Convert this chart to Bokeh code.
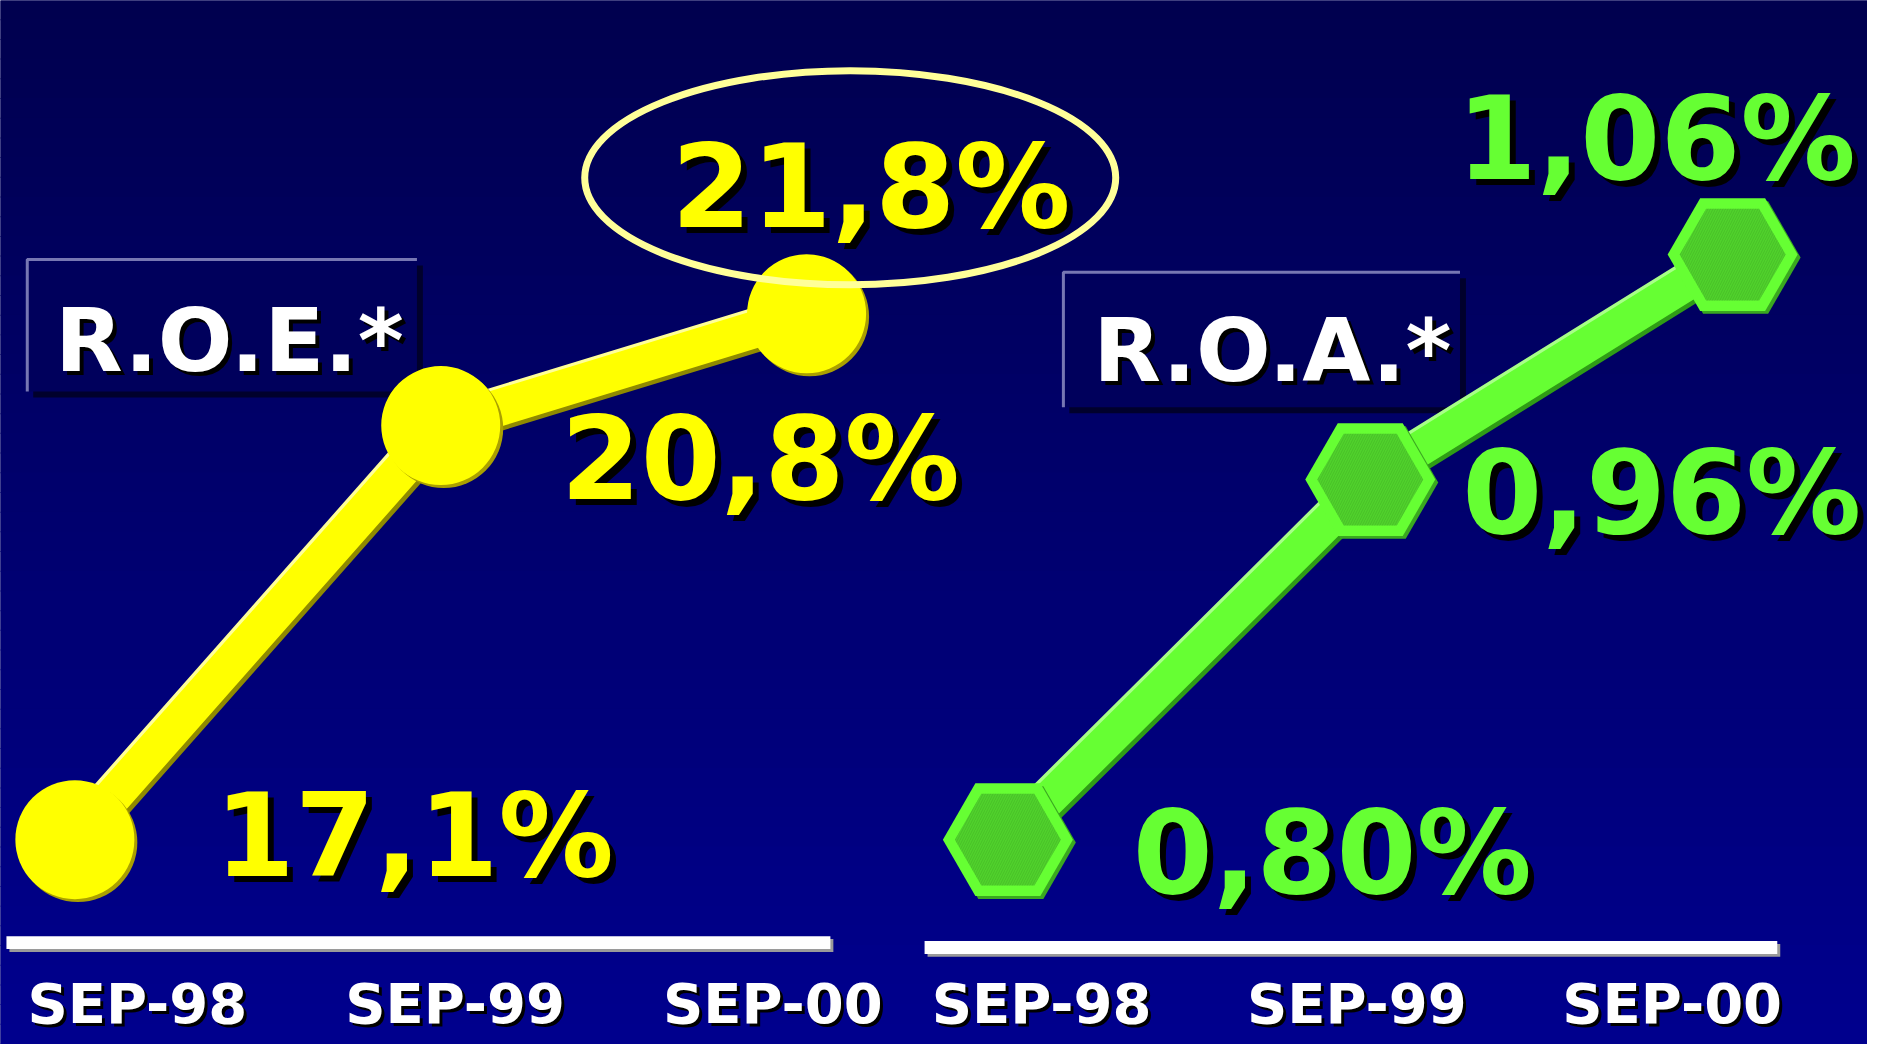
from bokeh.plotting import figure
from bokeh.models import Range1d, ColumnDataSource
from bokeh.core.properties import value
from bokeh.embed import file_html
from bokeh.resources import INLINE

# ---------------- data ----------------
periods = ["SEP-98", "SEP-99", "SEP-00"]
roe = [17.1, 20.8, 21.8]
roa = [0.80, 0.96, 1.06]
roe_title = "R.O.E.*"
roa_title = "R.O.A.*"

# ---------------- layout ----------------
REF_W, REF_H = 1883, 1060
W, H = 1867, 1044
FONT = value("DejaVu Sans")
BASE_FIX = 0.32  # em shift so that text sits on its baseline
idx = list(range(len(periods)))


def fmt(v, d):
    return f"{v:.{d}f}".replace(".", ",") + "%"


def Y(y):
    return REF_H - y


def xr(v0, p0, v1, p1, d=0):
    k = (p1 - p0) / (v1 - v0)
    return Range1d(start=v0 + (0 - p0 - d) / k, end=v0 + (REF_W - p0 - d) / k)


def yr(v0, p0, v1, p1, d=0):
    k = (p1 - p0) / (v1 - v0)
    return Range1d(start=v0 + (REF_H - p0 - d) / k, end=v0 + (0 - p0 - d) / k)


ROE_X = (75, 813)
ROE_Y = (852, 318)
ROA_X = (1016, 1747)
ROA_Y = (852, 258)
ROE_TICK = (138, 779)
ROA_TICK = (1050, 1686)

n = len(periods) - 1
p = figure(width=W, height=H, x_range=Range1d(0, REF_W), y_range=Range1d(0, REF_H),
           output_backend="svg", toolbar_location=None, min_border=0,
           x_axis_type=None, y_axis_type=None)
p.outline_line_color = None
p.background_fill_color = "#000062"
p.border_fill_color = "#000062"
p.extra_x_ranges = {}
p.extra_y_ranges = {}


def add_x(name, a, d=0):
    p.extra_x_ranges[name] = xr(0, a[0], n, a[1], d)


def add_y(name, vals, a, d=0):
    p.extra_y_ranges[name] = yr(min(vals), a[0], max(vals), a[1], d)


add_x("roe_x", ROE_X); add_y("roe_y", roe, ROE_Y)
add_x("roe_xs", ROE_X, 3); add_y("roe_ys", roe, ROE_Y, 3)
add_x("roe_xh", ROE_X, -2); add_y("roe_yh", roe, ROE_Y, -2)
add_x("roe_xe", ROE_X, 44); add_y("roe_ye", roe, ROE_Y, -138)
add_x("roa_x", ROA_X); add_y("roa_y", roa, ROA_Y)
add_x("roa_xs", ROA_X, 3); add_y("roa_ys", roa, ROA_Y, 3)
add_x("roa_xh", ROA_X, -2); add_y("roa_yh", roa, ROA_Y, -2)
add_x("roe_tick", ROE_TICK)
add_x("roa_tick", ROA_TICK)

# ---------------- background gradient ----------------
band = 20
tops, bots, cols = [], [], []
for i in range(REF_H // band + 1):
    t = i * band
    tops.append(Y(t) + 1)
    bots.append(Y(t + band))
    b = int(round(78 + (142 - 78) * (t + band / 2) / REF_H))
    cols.append("#0000%02x" % min(b, 255))
p.quad(left=-10, right=REF_W + 10, top=tops, bottom=bots, fill_color=cols, line_color=None)

# ---------------- baselines ----------------
p.quad(left=[9, 935], right=[840, 1795], top=[Y(953), Y(958)], bottom=[Y(966), Y(971)],
       fill_color="#9a9a9a", line_color=None)
p.quad(left=[6, 932], right=[837, 1792], top=[Y(950), Y(955)], bottom=[Y(963), Y(968)],
       fill_color="#ffffff", line_color=None)

# ---------------- title boxes ----------------
boxes = dict(l=[27, 1072], r=[420, 1472], t=[263, 276], b=[397, 413])
p.quad(left=[v + 6 for v in boxes["l"]], right=[v + 6 for v in boxes["r"]],
       top=[Y(v + 6) for v in boxes["t"]], bottom=[Y(v + 6) for v in boxes["b"]],
       fill_color="#00002c", line_color=None)
p.quad(left=boxes["l"], right=boxes["r"], top=[Y(v) for v in boxes["t"]],
       bottom=[Y(v) for v in boxes["b"]], fill_color="#00005c", line_color=None)
p.multi_line(xs=[[l, l, r] for l, r in zip(boxes["l"], boxes["r"])],
             ys=[[Y(b), Y(t), Y(t)] for t, b in zip(boxes["t"], boxes["b"])],
             line_color="#7777b3", line_width=3)
TS = 88
tsrc = ColumnDataSource(dict(x=[55, 1102], y=[Y(373 - BASE_FIX * TS), Y(384 - BASE_FIX * TS)],
                             text=[roe_title, roa_title]))
for dx, c in ((4, "#000000"), (0, "#ffffff")):
    p.text(x="x", y="y", text="text", source=tsrc, x_offset=dx, y_offset=dx,
           text_color=c, text_font=FONT, text_font_style="bold", text_font_size=f"{TS}px",
           text_align="left", text_baseline="alphabetic")

# ---------------- ROE series ----------------
p.line(x=idx, y=roe, x_range_name="roe_xs", y_range_name="roe_ys",
       line_color="#8f8a00", line_width=38)
p.line(x=idx, y=roe, x_range_name="roe_xh", y_range_name="roe_yh",
       line_color="#ffff99", line_width=38)
p.line(x=idx, y=roe, x_range_name="roe_x", y_range_name="roe_y",
       line_color="#ffff00", line_width=37)
p.scatter(x=idx, y=roe, x_range_name="roe_xs", y_range_name="roe_ys",
          marker="circle", size=119, fill_color="#aaa000", line_color=None)
p.scatter(x=idx, y=roe, x_range_name="roe_x", y_range_name="roe_y",
          marker="circle", size=119, fill_color="#ffff00", line_color=None)
top_i = roe.index(max(roe))
p.ellipse(x=[idx[top_i]], y=[roe[top_i]], x_range_name="roe_xe", y_range_name="roe_ye",
          width=531, height=214, width_units="screen", height_units="screen",
          fill_color=None, line_color="#ffff99", line_width=7)

# ---------------- ROA series ----------------
p.line(x=idx, y=roa, x_range_name="roa_xs", y_range_name="roa_ys",
       line_color="#2f9c16", line_width=36)
p.line(x=idx, y=roa, x_range_name="roa_xh", y_range_name="roa_yh",
       line_color="#a8ff88", line_width=36)
p.line(x=idx, y=roa, x_range_name="roa_x", y_range_name="roa_y",
       line_color="#66ff33", line_width=35)
p.scatter(x=idx, y=roa, x_range_name="roa_xs", y_range_name="roa_ys",
          marker="hex", size=130, fill_color="#3aa820", line_color=None)
p.scatter(x=idx, y=roa, x_range_name="roa_x", y_range_name="roa_y",
          marker="hex", size=130, fill_color="#66ff33", line_color=None)
p.scatter(x=idx, y=roa, x_range_name="roa_x", y_range_name="roa_y",
          marker="hex", size=106, fill_color="#50d22c", line_color=None,
          hatch_pattern="right_diagonal_line", hatch_color="#3fae22",
          hatch_alpha=0.5, hatch_scale=5, hatch_weight=1)

# ---------------- value labels ----------------
VS = 115
ROE_DX = [140, 120, -135]
ROE_DY = [33, 70, -90]
ROA_DX = [125, 92, -276]
ROA_DY = [50, 50, -79]
SH = 6
fix = BASE_FIX * VS
for vals, dxs, dys, col, xn, yn, dec in (
        (roe, ROE_DX, ROE_DY, "#ffff00", "roe_x", "roe_y", 1),
        (roa, ROA_DX, ROA_DY, "#66ff33", "roa_x", "roa_y", 2)):
    src = ColumnDataSource(dict(x=idx, y=vals, text=[fmt(v, dec) for v in vals],
                                xo=dxs, yo=[d - fix for d in dys],
                                xs=[d + SH for d in dxs], ys=[d - fix + SH for d in dys]))
    p.text(x="x", y="y", text="text", source=src, x_offset="xs", y_offset="ys",
           x_range_name=xn, y_range_name=yn, text_color="#000000", text_font=FONT,
           text_font_style="bold", text_font_size=f"{VS}px",
           text_align="left", text_baseline="alphabetic")
    p.text(x="x", y="y", text="text", source=src, x_offset="xo", y_offset="yo",
           x_range_name=xn, y_range_name=yn, text_color=col, text_font=FONT,
           text_font_style="bold", text_font_size=f"{VS}px",
           text_align="left", text_baseline="alphabetic")

# ---------------- period labels ----------------
PS = 56
for xn in ("roe_tick", "roa_tick"):
    src = ColumnDataSource(dict(x=idx, y=[Y(1036 - BASE_FIX * PS)] * len(idx), text=periods))
    for dx, c in ((3, "#000000"), (0, "#ffffff")):
        p.text(x="x", y="y", text="text", source=src, x_offset=dx, y_offset=dx,
               x_range_name=xn, text_color=c, text_font=FONT, text_font_style="bold",
               text_font_size=f"{PS}px", text_align="center", text_baseline="alphabetic")

open("out.html", "w").write(file_html(p, INLINE))
